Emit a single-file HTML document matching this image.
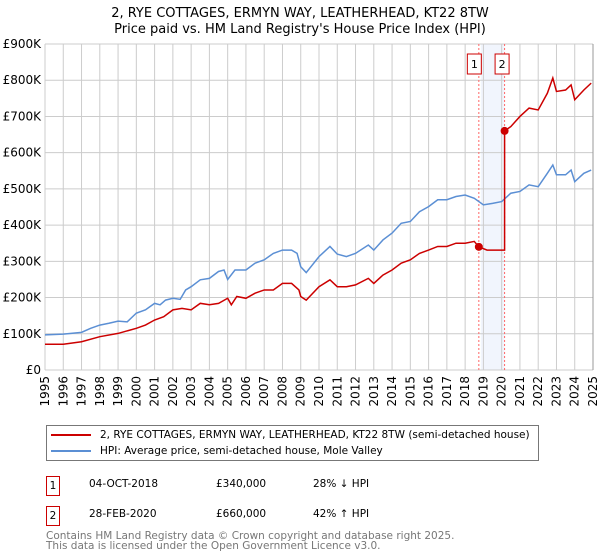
<!DOCTYPE html>
<html><head><meta charset="utf-8"><style>
body{margin:0;background:#fff;font-family:"DejaVu Sans","Liberation Sans",sans-serif;}
#wrap{position:relative;width:600px;height:560px;overflow:hidden}
</style></head><body>
<div id="wrap">
<svg id="chart" width="600" height="560" style="position:absolute;left:0;top:0;font-family:'DejaVu Sans','Liberation Sans',sans-serif">
<text x="300" y="17" text-anchor="middle" font-size="13">2, RYE COTTAGES, ERMYN WAY, LEATHERHEAD, KT22 8TW</text>
<text x="300" y="33" text-anchor="middle" font-size="13">Price paid vs. HM Land Registry's House Price Index (HPI)</text>
<g id="grid"></g><g id="series"></g><g id="axes"></g>
</svg>
<div style="position:absolute;left:46px;top:425px;width:493px;height:36px;border:1px solid #777;font-size:10.5px;box-sizing:border-box">
<div style="position:absolute;left:4px;top:3px;white-space:nowrap"><span style="display:inline-block;width:40px;height:2px;background:#cc0000;vertical-align:middle;margin-right:9px"></span>2, RYE COTTAGES, ERMYN WAY, LEATHERHEAD, KT22 8TW (semi-detached house)</div>
<div style="position:absolute;left:4px;top:19px;white-space:nowrap"><span style="display:inline-block;width:40px;height:2px;background:#5b8fd4;vertical-align:middle;margin-right:9px"></span>HPI: Average price, semi-detached house, Mole Valley</div>
</div>
<div style="font-size:10.5px">
<div style="position:absolute;left:46px;top:476px;width:12px;height:18px;border:1px solid #cc0000;text-align:center;line-height:18px">1</div>
<div style="position:absolute;left:89px;top:478px">04-OCT-2018</div>
<div style="position:absolute;left:216px;top:478px">£340,000</div>
<div style="position:absolute;left:313px;top:478px">28% ↓ HPI</div>
<div style="position:absolute;left:46px;top:506px;width:12px;height:18px;border:1px solid #cc0000;text-align:center;line-height:18px">2</div>
<div style="position:absolute;left:89px;top:508px">28-FEB-2020</div>
<div style="position:absolute;left:216px;top:508px">£660,000</div>
<div style="position:absolute;left:313px;top:508px">42% ↑ HPI</div>
</div>
<div style="position:absolute;left:46px;top:531px;font-size:10.5px;color:#777;line-height:10px">Contains HM Land Registry data © Crown copyright and database right 2025.<br>This data is licensed under the Open Government Licence v3.0.</div>
</div>
<script>
const yTicks=[0,100,200,300,400,500,600,700,800,900];
const yTickLabels=["£0","£100K","£200K","£300K","£400K","£500K","£600K","£700K","£800K","£900K"];
const years=[1995,1996,1997,1998,1999,2000,2001,2002,2003,2004,2005,2006,2007,2008,2009,2010,2011,2012,2013,2014,2015,2016,2017,2018,2019,2020,2021,2022,2023,2024,2025];
const hpiX=[1995,1996,1997,1997.5,1998,1998.5,1999,1999.5,2000,2000.5,2001,2001.3,2001.6,2002,2002.4,2002.7,2003,2003.5,2004,2004.5,2004.8,2005,2005.4,2006,2006.5,2007,2007.5,2008,2008.5,2008.8,2009,2009.3,2010,2010.6,2011,2011.5,2012,2012.7,2013,2013.5,2014,2014.5,2015,2015.5,2016,2016.5,2017,2017.5,2018,2018.5,2019,2019.5,2020,2020.5,2021,2021.5,2022,2022.5,2022.8,2023,2023.5,2023.8,2024,2024.5,2024.9];
const hpiY=[97,99,104,115,124,129,135,133,157,166,184,180,193,198,195,221,230,249,253,272,276,250,276,276,295,304,322,331,331,322,285,269,313,341,320,313,322,345,331,359,378,405,410,437,451,470,470,479,483,474,456,460,465,488,493,511,506,543,566,539,539,552,520,543,552];
const propX=[1995,1996,1997,1998,1999,2000,2000.5,2001,2001.5,2002,2002.5,2003,2003.5,2004,2004.5,2005,2005.2,2005.5,2006,2006.5,2007,2007.5,2008,2008.5,2008.9,2009,2009.3,2010,2010.6,2011,2011.5,2012,2012.7,2013,2013.5,2014,2014.5,2015,2015.5,2016,2016.5,2017,2017.5,2018,2018.5,2018.75,2019.2,2019.5,2020.16,2020.16,2020.5,2021,2021.5,2022,2022.5,2022.8,2023,2023.5,2023.8,2024,2024.5,2024.9];
const propY=[71,71,78,92,101,115,124,138,147,166,170,166,184,180,184,198,180,203,198,212,221,221,239,239,221,203,193,230,249,230,230,235,253,239,262,276,295,304,322,331,341,341,350,350,355,340,331,331,331,660,672,700,723,718,764,806,769,773,787,746,773,792];
const salesX=[2018.75,2020.16];
const salesY=[340,660];
const saleLabels=["1","2"];
const NS="http://www.w3.org/2000/svg";
const L=45,R=593,T=44,B=370;
const xs=v=>L+(v-1995)/30*(R-L);
const ys=v=>B-v/900*(B-T);
function mk(tag,attrs,parent,text){const e=document.createElementNS(NS,tag);for(const k in attrs)e.setAttribute(k,attrs[k]);if(text!==undefined)e.textContent=text;parent.appendChild(e);return e;}
const grid=document.getElementById('grid'),ser=document.getElementById('series'),ax=document.getElementById('axes');
const band=mk('rect',{x:xs(salesX[0])+2,y:T,width:xs(salesX[1])-xs(salesX[0])-2,height:B-T,fill:'#eef3fd',opacity:0.8},grid);


yTicks.forEach((t,i)=>{
 const l=mk('line',{x1:L,x2:R,y1:ys(t),y2:ys(t),stroke:'#cccccc','stroke-width':1},grid);
 
 
 const tx=mk('text',{x:L-4,y:ys(t)+4,'text-anchor':'end','font-size':12},ax,yTickLabels[i]);
 
 
});
years.forEach(y=>{
 const l=mk('line',{x1:xs(y),x2:xs(y),y1:T,y2:B,stroke:y===2025?'#999':'#cccccc','stroke-width':1},grid);
 
 
 const tx=mk('text',{x:0,y:0,'text-anchor':'end','font-size':12,transform:`translate(${xs(y)+4},${B+6}) rotate(-90)`},ax,String(y));
 
 
});
salesX.forEach((sx,i)=>{
 const l=mk('line',{x1:xs(sx),x2:xs(sx),y1:T,y2:B,stroke:'#ff6666','stroke-width':1,'stroke-dasharray':'2,2'},ser);
 
 
 const bx=xs(sx)-(i===0?11:9);
 const r=mk('rect',{x:bx-0.5,y:54,width:14,height:20,fill:'#fff',stroke:'#cc0000','stroke-width':1},ser);
 
 
 const t=mk('text',{x:bx+6.5,y:68,'text-anchor':'middle','font-size':11},ser,saleLabels[i]);
 
 
});
const hp=mk('polyline',{points:hpiX.map((x,i)=>xs(x)+','+ys(hpiY[i])).join(' '),fill:'none',stroke:'#5b8fd4','stroke-width':1.5},ser);


const pp=mk('polyline',{points:propX.map((x,i)=>xs(x)+','+ys(propY[i])).join(' '),fill:'none',stroke:'#cc0000','stroke-width':1.5},ser);


salesX.forEach((sx,i)=>{
 const c=mk('circle',{cx:xs(sx),cy:ys(salesY[i]),r:4,fill:'#cc0000'},ser);
 
 
});
</script>
</body></html>
